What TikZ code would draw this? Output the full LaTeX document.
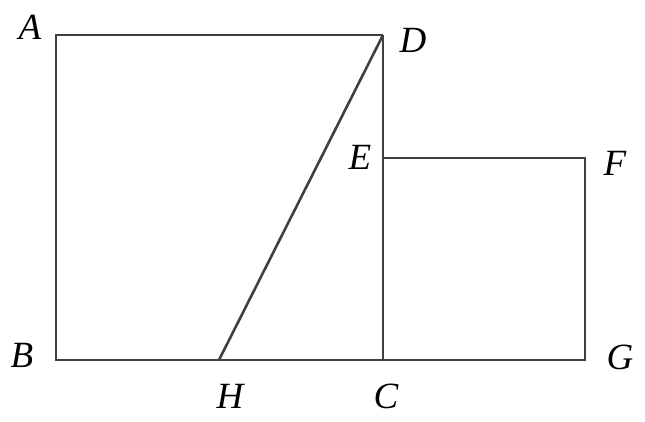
\documentclass[tikz,border=0pt]{standalone}
\usepackage{fontspec}
\setmainfont{Liberation Serif}
\usetikzlibrary{positioning}

\begin{document}
\begin{tikzpicture}[x=1pt, y=-1pt,
	edge/.style={draw=black!75, line width=2.6pt},
	pt/.style={font=\fontsize{37}{40}\selectfont\itshape, inner sep=0pt}]
\useasboundingbox (0,0) rectangle (645,421);
% corners of the two squares
\coordinate (A) at (56,35);
\coordinate (D) at (383,35);
\coordinate (B) at (56,360);
\coordinate (C) at (383,360);
\coordinate (E) at (383,158);
\coordinate (F) at (585,158);
\coordinate (G) at (585,360);
\coordinate (H) at (219,360);
% sides
\draw[edge] (D) -- (A) -- (B) -- (G) -- (F) -- (E);
\draw[edge] (D) -- (C);
\draw[edge] (D) -- (H);
% labels
\node[pt] (la) at (30,27) {A};
\node[pt] (ld) at (413,40) {D};
\node[pt] (le) at (360,157) {E};
\node[pt] (lf) at (615,163) {F};
\node[pt] (lb) at (22,355) {B};
\node[pt] (lg) at (620,357) {G};
\node[pt] (lh) at (230,396) {H};
\node[pt] (lc) at (386,396) {C};
\end{tikzpicture}
\end{document}
